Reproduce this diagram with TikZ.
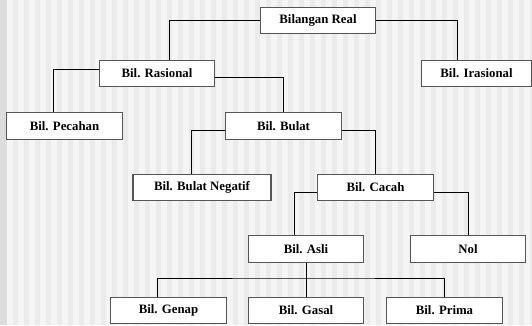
\documentclass[tikz,border=0pt]{standalone}
\usepackage{fontspec}
\setmainfont{Liberation Serif}
\usepackage{tikz}
\definecolor{bgmid}{HTML}{EBEBEB}
\definecolor{bglight}{HTML}{F5F5F5}
\definecolor{bgedge}{HTML}{DCDCDC}
\definecolor{boxline}{HTML}{555555}
\tikzset{
  >=latex,
}
\tikzstyle{box}=[draw=boxline,line width=.8pt,fill=white,minimum width=86.5pt,minimum height=20pt,inner sep=0pt]
\tikzstyle{link}=[line width=.75pt]
\tikzstyle{every node}=[font=\fontsize{9.6}{11}\selectfont\bfseries]

\begin{document}
\begin{tikzpicture}[x=.75pt,y=-.75pt]
    \useasboundingbox (0,0) rectangle (532,325);
    \fill[bgmid] (0,0) rectangle (532,325);
    \foreach \i in {0,...,47}
      \fill[bglight] ({7+11*\i},0) rectangle +(5.5,325);
    \fill[bgedge] (0,0) rectangle (7,325);
    \node[box] (real) at (318,20.5) {Bilangan Real};
    \node[box,minimum width=82pt] (irasional) at (476.5,73.5) {Bil. Irasional};
    \node[box] (rasional) at (157,73.5) {Bil. Rasional};
    \node[box] (pecahan) at (64.5,126) {Bil. Pecahan};
    \node[box] (bulat) at (283.5,126) {Bil. Bulat};
    \node[box,minimum width=103.5pt] (negatif) at (202,187.5) {Bil. Bulat Negatif};
    \node[box] (cacah) at (375.5,187.5) {Bil. Cacah};
    \node[box] (asli) at (306,249) {Bil. Asli};
    \node[box] (nol) at (468,249) {Nol};
    \node[box] (genap) at (168.5,310.5) {Bil. Genap};
    \node[box] (gasal) at (306,310.5) {Bil. Gasal};
    \node[box] (prima) at (444.5,310.5) {Bil. Prima};
    \coordinate (bus) at (306,278);
    \draw[link] (real.west) -| ([xshift=9pt]rasional.north);
    \draw[link] (real.east) -| ([xshift=-14.6pt]irasional.north);
    \draw[link] ([yshift=3pt]rasional.west) -| ([xshift=-8.6pt]pecahan.north);
    \draw[link] ([yshift=-3pt]rasional.east) -| (bulat.north);
    \draw[link] ([yshift=-3pt]bulat.west) -| ([xshift=-8.25pt]negatif.north);
    \draw[link] ([yshift=-3pt]bulat.east) -| (cacah.north);
    \draw[link] ([yshift=-3.75pt]cacah.west) -| ([xshift=-9pt]asli.north);
    \draw[link] ([yshift=-3.75pt]cacah.east) -| (nol.north);
    \draw[link] (asli.south) -- (gasal.north);
    \draw[link] ([xshift=-8.6pt]genap.north) |- (bus) -| (prima.north);
  \end{tikzpicture}
\end{document}
